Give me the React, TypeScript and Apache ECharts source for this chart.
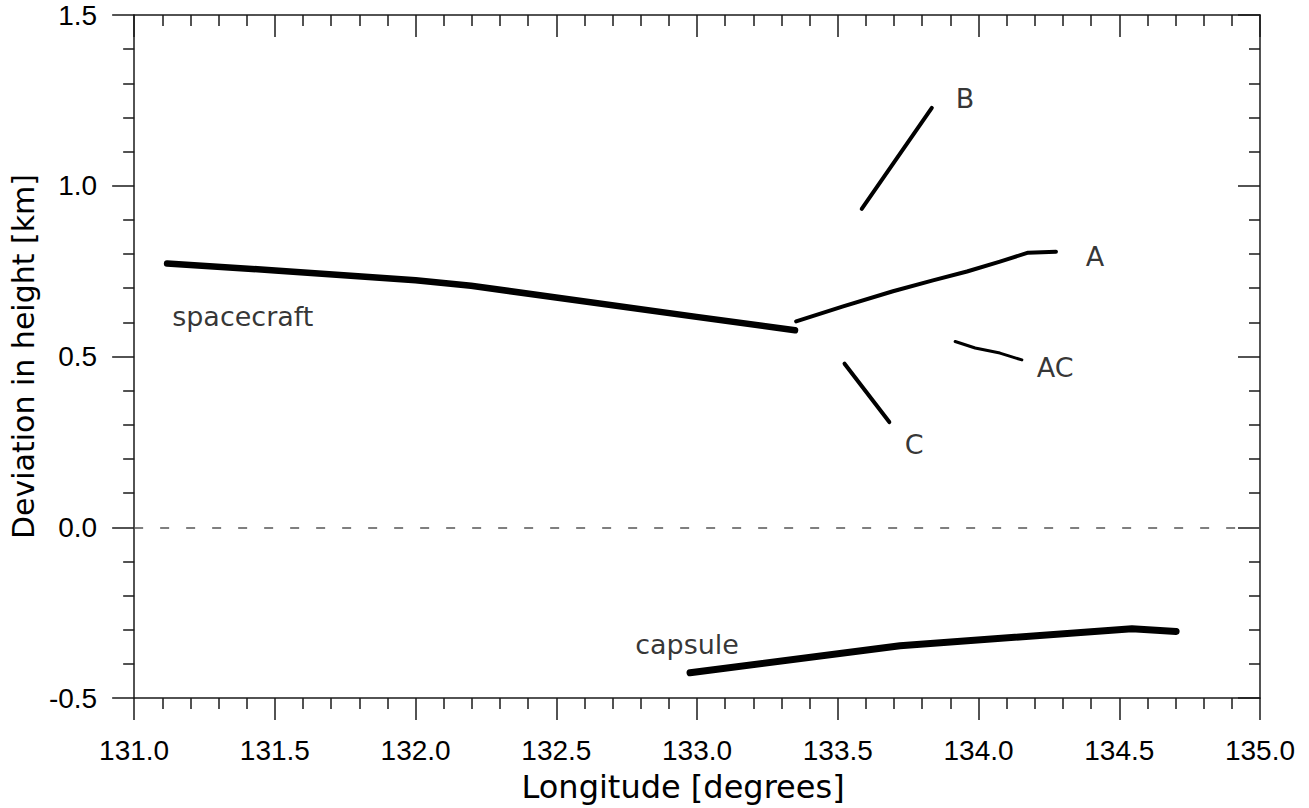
import React, { useEffect, useRef } from "react";
import * as echarts from "echarts";

const xTicks = { min: 131, max: 135, interval: 0.5 };
const yTicks = { min: -0.5, max: 1.5, interval: 0.5 };

const spacecraft: [number, number][] = [
  [131.117, 0.772], [131.501, 0.752], [132.0, 0.723], [132.197, 0.707],
  [132.499, 0.673], [132.998, 0.616], [133.348, 0.577],
];
const lineA: [number, number][] = [
  [133.352, 0.603], [133.519, 0.647], [133.696, 0.691], [133.838, 0.723],
  [133.959, 0.749], [134.076, 0.778], [134.176, 0.804], [134.275, 0.807],
];
const lineB: [number, number][] = [[133.585, 0.932], [133.834, 1.228]];
const lineC: [number, number][] = [[133.524, 0.479], [133.683, 0.308]];
const lineAC: [number, number][] = [
  [133.917, 0.544], [133.988, 0.525], [134.076, 0.51], [134.154, 0.49],
];
const capsule: [number, number][] = [
  [132.975, -0.426], [133.721, -0.347], [134.545, -0.297], [134.702, -0.305],
];
const labels: { name: string; x: number; y: number; align: string }[] = [
  { name: "B", x: 133.952, y: 1.255, align: "center" },
  { name: "A", x: 134.414, y: 0.793, align: "center" },
  { name: "AC", x: 134.272, y: 0.467, align: "center" },
  { name: "C", x: 133.771, y: 0.242, align: "center" },
  { name: "spacecraft", x: 131.135, y: 0.618, align: "left" },
  { name: "capsule", x: 132.78, y: -0.343, align: "left" },
];

const AXIS_COLOR = "#1a1a1a";

export default function App() {
  const ref = useRef<HTMLDivElement>(null);
  useEffect(() => {
    if (!ref.current) return;
    const chart = echarts.init(ref.current, null, { renderer: "svg" });
    const tickLabel = {
      color: "#000",
      fontFamily: "Liberation Sans",
      fontSize: 28,
      formatter: (v: number) => v.toFixed(1),
    };
    const axisLine = { show: true, onZero: false, lineStyle: { color: AXIS_COLOR, width: 1.5 } };
    const tick = (inside: boolean) => ({
      show: true,
      inside,
      length: 22,
      lineStyle: { color: AXIS_COLOR, width: 1.5 },
    });
    const minor = { show: true, splitNumber: 5, length: 11, lineStyle: { color: AXIS_COLOR, width: 1.5 } };
    const lineSeries = (name: string, data: [number, number][], width: number) => ({
      type: "line",
      name,
      data,
      showSymbol: false,
      symbol: "none",
      lineStyle: { color: "#000", width, cap: "round", join: "round" },
      silent: true,
    });
    chart.setOption({
      animation: false,
      backgroundColor: "#fff",
      grid: { left: 134, right: 49, top: 15, bottom: 106 },
      xAxis: [
        {
          type: "value",
          position: "bottom",
          ...xTicks,
          axisLine,
          axisTick: tick(false),
          minorTick: minor,
          splitLine: { show: false },
          axisLabel: { ...tickLabel, margin: 38 },
          name: "Longitude [degrees]",
          nameLocation: "middle",
          nameGap: 73,
          nameTextStyle: {
            color: "#000",
            fontFamily: "DejaVu Sans",
            fontSize: 32,
            padding: [0, 28, 0, 0],
          },
        },
        {
          type: "value",
          position: "top",
          ...xTicks,
          axisLine,
          axisTick: tick(true),
          minorTick: minor,
          splitLine: { show: false },
          axisLabel: { show: false },
        },
      ],
      yAxis: [
        {
          type: "value",
          position: "left",
          ...yTicks,
          axisLine,
          axisTick: tick(false),
          minorTick: minor,
          splitLine: { show: false },
          axisLabel: { ...tickLabel, margin: 37 },
          name: "Deviation in height [km]",
          nameLocation: "middle",
          nameGap: 96,
          nameTextStyle: { color: "#000", fontFamily: "DejaVu Sans", fontSize: 30 },
        },
        {
          type: "value",
          position: "right",
          ...yTicks,
          axisLine,
          axisTick: tick(true),
          minorTick: minor,
          splitLine: { show: false },
          axisLabel: { show: false },
        },
      ],
      series: [
        {
          ...lineSeries("spacecraft", spacecraft, 6.5),
          markLine: {
            silent: true,
            symbol: "none",
            label: { show: false },
            lineStyle: { color: "#555", width: 1.5, type: [9, 17] },
            data: [{ yAxis: 0 }],
          },
        },
        lineSeries("A", lineA, 4),
        lineSeries("B", lineB, 4),
        lineSeries("C", lineC, 4),
        lineSeries("AC", lineAC, 3),
        lineSeries("capsule", capsule, 7),
        {
          type: "scatter",
          symbolSize: 0,
          silent: true,
          data: labels.map((l) => ({
            value: [l.x, l.y],
            label: {
              show: true,
              position: "inside",
              formatter: l.name,
              align: l.align,
              verticalAlign: "middle",
              color: "#000",
              fontFamily: "DejaVu Sans",
              fontSize: 27,
            },
          })),
        },
      ],
    });
    return () => chart.dispose();
  }, []);
  return (
    <div
      ref={ref}
      style={{ position: "fixed", left: 0, top: 0, width: 1309, height: 808, background: "#fff" }}
    />
  );
}
